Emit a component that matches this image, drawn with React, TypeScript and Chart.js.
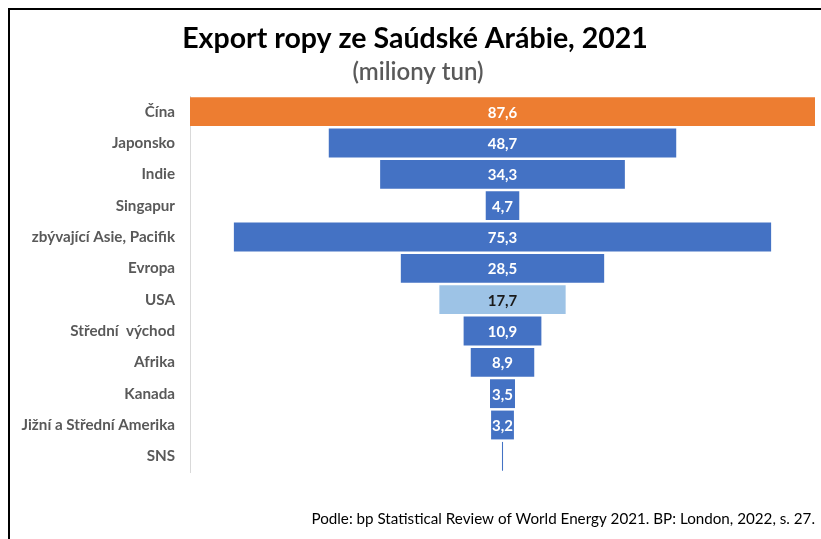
import { useEffect, useRef } from "react";
import { Chart, registerables } from "chart.js";

Chart.register(...registerables);

const categories = [
  "Čína",
  "Japonsko",
  "Indie",
  "Singapur",
  "zbývající Asie, Pacifik",
  "Evropa",
  "USA",
  "Střední  východ",
  "Afrika",
  "Kanada",
  "Jižní a Střední Amerika",
  "SNS",
];
const values = [87.6, 48.7, 34.3, 4.7, 75.3, 28.5, 17.7, 10.9, 8.9, 3.5, 3.2, 0.15];
const valueLabels = ["87,6", "48,7", "34,3", "4,7", "75,3", "28,5", "17,7", "10,9", "8,9", "3,5", "3,2", ""];
const barColors = [
  "#ED7D31", "#4472C4", "#4472C4", "#4472C4", "#4472C4", "#4472C4",
  "#9DC3E6", "#4472C4", "#4472C4", "#4472C4", "#4472C4", "#4472C4",
];
const labelColors = [
  "#FFFFFF", "#FFFFFF", "#FFFFFF", "#FFFFFF", "#FFFFFF", "#FFFFFF",
  "#1A1A1A", "#FFFFFF", "#FFFFFF", "#FFFFFF", "#FFFFFF", "#FFFFFF",
];
const titleText = "Export ropy ze Saúdské Arábie, 2021";
const subtitleText = "(miliony tun)";
const sourceText = "Podle: bp Statistical Review of World Energy 2021. BP: London, 2022, s. 27.";

const FONT = "Lato, 'Open Sans', sans-serif";

const textPlugin = {
  id: "texts",
  afterDraw(chart: any) {
    const ctx = chart.ctx;
    ctx.save();
    ctx.textAlign = "center";
    ctx.textBaseline = "alphabetic";
    ctx.fillStyle = "#000000";
    ctx.font = `bold 28.5px ${FONT}`;
    ctx.fillText(titleText, 415, 48);
    ctx.fillStyle = "#595959";
    ctx.font = `600 24px ${FONT}`;
    ctx.fillText(subtitleText, 418, 80);
    ctx.fillStyle = "#000000";
    ctx.textAlign = "right";
    ctx.font = `15.2px ${FONT}`;
    ctx.fillText(sourceText, 815, 524);

    const meta = chart.getDatasetMeta(0);
    ctx.textAlign = "center";
    ctx.textBaseline = "middle";
    ctx.font = `bold 15px ${FONT}`;
    meta.data.forEach((el: any, i: number) => {
      const lbl = valueLabels[i];
      if (!lbl) return;
      const cx = (el.x + el.base) / 2;
      ctx.fillStyle = labelColors[i];
      ctx.fillText(lbl, cx, el.y + 1);
    });
    ctx.restore();
  },
};

export default function App() {
  const ref = useRef<HTMLCanvasElement>(null);
  useEffect(() => {
    if (!ref.current) return;
    const chart = new Chart(ref.current, {
      type: "bar",
      data: {
        labels: categories,
        datasets: [
          {
            data: values.map((v) => [-v / 2, v / 2]) as any,
            backgroundColor: barColors,
            borderWidth: 0,
            borderSkipped: false,
            barPercentage: 0.92,
            categoryPercentage: 1,
          },
        ],
      },
      options: {
        indexAxis: "y",
        responsive: false,
        animation: false,
        layout: { padding: { top: 96, bottom: 67, right: 6, left: 0 } },
        plugins: {
          legend: { display: false },
          tooltip: { enabled: false },
          title: { display: false },
        },
        scales: {
          x: { display: false, min: -43.8, max: 43.8 },
          y: {
            grid: { display: false },
            border: { display: true, color: "#D9D9D9", width: 1 },
            ticks: {
              color: "#595959",
              padding: 7,
              font: { family: FONT, size: 15.2, weight: "bold" },
            },
            afterFit(scale: any) {
              scale.width = 190;
            },
          },
        },
      },
      plugins: [textPlugin],
    });
    return () => chart.destroy();
  }, []);

  return (
    <div style={{ position: "fixed", left: 0, top: 0, width: 821, height: 539, background: "#fff", overflow: "hidden" }}>
      <canvas ref={ref} width={821} height={539} style={{ position: "absolute", left: 0, top: 0 }} />
      <div
        style={{
          position: "absolute",
          left: 8,
          top: 8,
          width: 900,
          height: 600,
          borderTop: "2px solid #000",
          borderLeft: "2px solid #000",
          boxSizing: "border-box",
          pointerEvents: "none",
        }}
      />
    </div>
  );
}
